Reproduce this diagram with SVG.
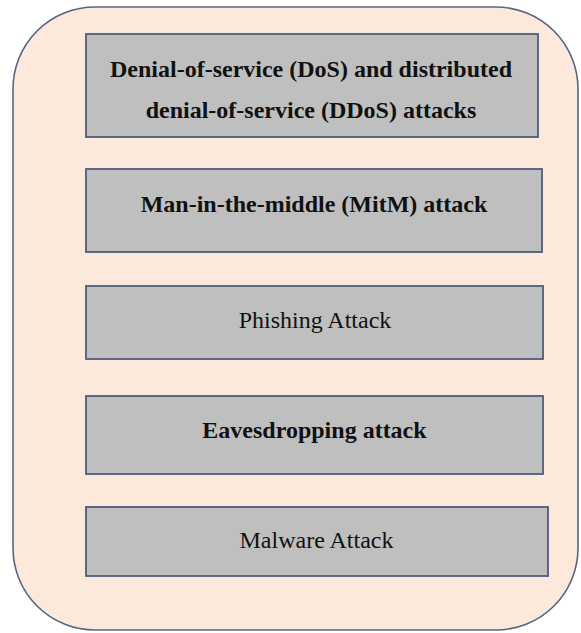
<svg xmlns="http://www.w3.org/2000/svg" width="581" height="633" viewBox="0 0 581 633">
<style>
.outer{fill:#fce9dc;stroke:#56667f;stroke-width:1.6}
.box{fill:#bfbfbf;stroke:#4d5d7a;stroke-width:1.8}
.t{font-family:"Liberation Serif","Times New Roman",serif;font-size:24px;fill:#111;text-anchor:middle}
.b{font-weight:bold}
</style>
<rect width="581" height="633" fill="#ffffff"/>
<rect class="outer" x="13" y="7" width="565" height="623" rx="82" ry="82"/>
<g id="node-dos">
<rect class="box" x="86" y="34" width="452" height="103"/>
<text class="t b" x="311" y="77">Denial-of-service (DoS) and distributed</text>
<text class="t b" x="311" y="118">denial-of-service (DDoS) attacks</text>
</g>
<g id="node-mitm">
<rect class="box" x="86" y="169" width="456" height="83"/>
<text class="t b" x="314" y="212">Man-in-the-middle (MitM) attack</text>
</g>
<g id="node-phishing">
<rect class="box" x="86" y="286" width="457" height="73"/>
<text class="t" x="315" y="328">Phishing Attack</text>
</g>
<g id="node-eaves">
<rect class="box" x="86" y="396" width="457" height="78"/>
<text class="t b" x="314.5" y="438">Eavesdropping attack</text>
</g>
<g id="node-malware">
<rect class="box" x="86" y="507" width="462" height="69"/>
<text class="t" x="316.5" y="548">Malware Attack</text>
</g>
<g id="connectors"></g>
</svg>
